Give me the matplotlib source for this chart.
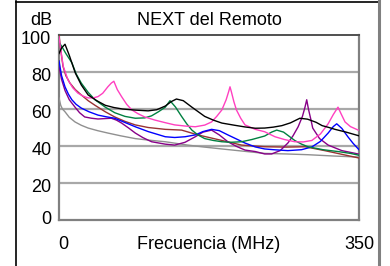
import matplotlib
matplotlib.use("Agg")
import matplotlib.pyplot as plt
from matplotlib.lines import Line2D
from matplotlib.transforms import offset_copy

plt.rcParams['font.family'] = ['Liberation Sans', 'DejaVu Sans']

title = "NEXT del Remoto"
xlabel = "Frecuencia (MHz)"
ylabel = "dB"
yticks = [0, 20, 40, 60, 80, 100]
xticks = [0, 350]

black_x = [0, 3, 7, 12, 19, 26, 34, 44, 54, 64, 74, 89, 104, 114, 124, 131, 137, 145, 155, 170, 180, 190, 205, 217, 229, 240, 250, 260, 270, 281, 290, 300, 307, 315, 322, 335, 350]
black_y = [90, 93, 95, 89, 79.5, 73, 67.6, 64.5, 62, 60.8, 60, 59.4, 59, 59.6, 61.6, 64, 65.4, 64.5, 61, 56, 54, 52.4, 51.2, 50.3, 49.6, 49.7, 50.2, 51, 52.5, 55, 54.5, 52.8, 51, 50, 49, 47.5, 45.5]

green_x = [0, 3, 8, 15, 20, 26, 34, 42, 54, 65, 77, 89, 100, 108, 116, 124, 129.5, 136, 143, 149, 155, 162, 170, 180, 190, 200, 213, 225, 240, 248, 254, 262, 275, 283, 290.5, 308, 325.5, 340, 350]
green_y = [96, 94, 90, 85, 79, 74, 69, 65, 61, 58, 56, 55, 55.2, 56.3, 58.5, 61, 64.5, 61, 56, 52, 48.6, 46, 44, 43, 42.3, 42, 42.3, 43.5, 45.4, 47.5, 48.6, 47.5, 43, 41, 39.6, 38, 37, 36, 35]

pink_x = [0, 2, 5, 10.5, 16, 22, 28, 34, 40, 45.5, 51, 57, 61, 64, 68, 73, 79, 85, 92, 100, 112, 124, 135, 147, 159, 170, 178, 184, 190, 195, 198, 199.5, 201, 204, 207, 212, 217, 229, 240, 252, 263, 275, 285, 295, 305, 314, 320, 325.5, 329, 333.7, 340, 349]
pink_y = [99, 92, 83, 75.7, 71.5, 68.6, 67, 66, 66, 66.7, 68.5, 72, 74, 75, 70.5, 66.7, 62.5, 59.5, 57.5, 55.7, 54, 52.6, 51.4, 50.8, 50.4, 51.3, 53, 56, 59.5, 65, 69.5, 72, 69.5, 64, 59.5, 55, 51.4, 49, 47.7, 45, 43.5, 42.3, 42.2, 43, 46.5, 52, 57, 61, 57.5, 53, 50.5, 48.6]

brown_x = [0, 2, 4.7, 8, 12.8, 19, 26, 34, 42, 54, 65, 77, 89, 104, 124, 143, 162, 176, 190, 213, 240, 265, 287, 310, 330, 350]
brown_y = [100, 92, 83, 78, 74, 70.5, 67.6, 64.5, 62, 58.5, 55.7, 53.3, 51.4, 50, 49, 48.6, 46, 44.5, 43, 40.5, 39.6, 39.4, 39.6, 37.5, 35.5, 33.5]

blue_x = [0, 3, 7, 11, 15, 20, 26, 35, 45.5, 55, 65, 77, 89, 104, 124, 135, 147, 159, 168, 178, 187, 197, 207, 217, 229, 240, 250, 267, 283, 295, 305, 314, 320, 324, 330, 337, 343, 350]
blue_y = [86, 78, 72, 68, 65, 62.5, 60.5, 58.5, 56.7, 55.8, 55, 52.7, 50.4, 47.8, 45, 44.6, 45, 46, 47.8, 49, 48.3, 46, 43.8, 41.6, 39.5, 38.4, 38, 37.5, 38, 39.5, 42.5, 47, 50.5, 52, 49.5, 45, 41.5, 38]

purple_x = [0, 3, 7, 12, 18.7, 24, 30, 38, 45.5, 53, 61, 67, 73, 81, 89, 98, 108, 124, 135, 147, 159, 168, 178, 187, 197, 207, 217, 229, 240, 248, 258, 267, 273, 279, 284, 287, 289, 291, 294, 296, 304, 314, 330, 349]
purple_y = [83, 76, 70, 65, 61, 58, 55.7, 55, 54.6, 54.8, 55, 54, 52.4, 49.8, 47, 44.5, 42.3, 41, 40.5, 42, 45, 47.5, 48.6, 46, 42.3, 39.8, 37.8, 37, 35.7, 35.7, 37.5, 41.6, 45.5, 50.4, 56, 61, 65, 60, 54, 49.7, 44, 40.5, 37.5, 35.7]

gray_x = [0, 2, 4, 7, 12, 18.7, 26, 34, 45, 57, 72, 89, 104, 124, 150, 170, 190, 215, 240, 265, 290, 320, 350]
gray_y = [66, 62, 60, 58.5, 55.5, 53, 51.2, 49.7, 48.3, 47, 45.5, 44, 43.2, 42.3, 40.5, 39.4, 38.4, 37.2, 36, 35.7, 35.3, 34.6, 34]

series = [
    (gray_x, gray_y, "#909090"),
    (brown_x, brown_y, "#993333"),
    (purple_x, purple_y, "#880088"),
    (blue_x, blue_y, "#0000ff"),
    (green_x, green_y, "#008040"),
    (pink_x, pink_y, "#ff40c0"),
    (black_x, black_y, "#000000"),
]

FS = 13
W, H = 390, 266
fig = plt.figure(figsize=(W / 100, H / 100), dpi=100)
fig.patch.set_facecolor("white")

# outer frame
fig.add_artist(Line2D([16 / W, 16 / W], [0, 1 - 1 / H], color="black", lw=1.2, transform=fig.transFigure))
fig.add_artist(Line2D([16 / W, 379 / W], [1 - 1.5 / H, 1 - 1.5 / H], color="black", lw=1.2, transform=fig.transFigure))
fig.add_artist(Line2D([379 / W, 379 / W], [0, 1 - 1 / H], color="#808080", lw=2.2, transform=fig.transFigure))

ax = fig.add_axes([59 / W, (H - 220) / H, 300 / W, 185 / H])
ax.set_xlim(0, 350)
ax.set_ylim(0, 100)

for y in [20, 40, 60, 80]:
    ax.axhline(y, color="#a8a8a8", lw=1.6, zorder=1)

for xs, ys, c in series:
    ax.plot(xs, ys, color=c, lw=1.0, zorder=3)

for s in ["left", "bottom", "right"]:
    ax.spines[s].set_color("#808080")
    ax.spines[s].set_linewidth(1.6)
ax.spines["top"].set_color("#505050")
ax.spines["top"].set_linewidth(1.4)

ax.set_xticks([])
ax.set_yticks([])

ytrans = ax.get_yaxis_transform()
for v in yticks:
    dy = -3.5 if v > 0 else 0
    tr = offset_copy(ytrans, fig=fig, x=-5.5, y=dy, units="points")
    ax.text(0, v, str(v), ha="right", va="center", fontsize=FS, transform=tr, clip_on=False)

xtr = offset_copy(ax.transData, fig=fig, x=3, y=0, units="points")
ax.text(xticks[0], -13, str(xticks[0]), ha="center", va="center", fontsize=FS,
        transform=xtr, clip_on=False)
ax.text(xticks[1], -13, str(xticks[1]), ha="center", va="center", fontsize=FS, clip_on=False)
ax.text(175, -13, xlabel, ha="center", va="center", fontsize=FS, clip_on=False)
ax.text(0.5, 1.035, title, ha="center", va="bottom", fontsize=FS, transform=ax.transAxes)
ax.text(-0.023, 1.035, ylabel, ha="right", va="bottom", fontsize=FS, transform=ax.transAxes)

fig.savefig("out.png", dpi=100, facecolor="white")
